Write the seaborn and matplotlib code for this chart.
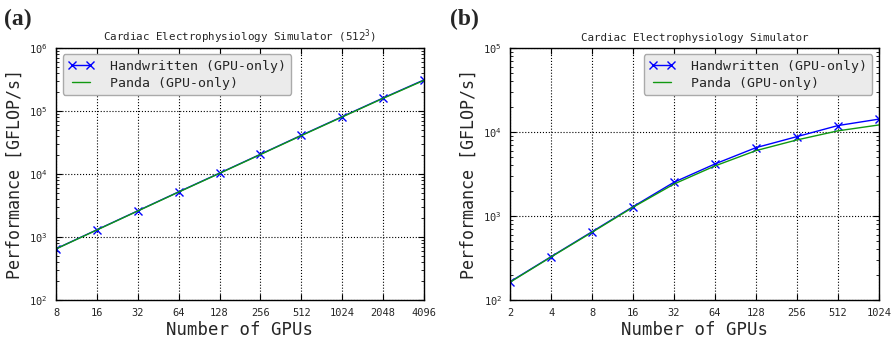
import numpy as np
import pandas as pd
import matplotlib
matplotlib.use("Agg")
import matplotlib.pyplot as plt
import matplotlib.ticker as mticker
import seaborn as sns

# (a) strong scaling, 512^3 problem
gpus_a = [8, 16, 32, 64, 128, 256, 512, 1024, 2048, 4096]
hand_a = [650, 1300, 2600, 5200, 10300, 20500, 41000, 81000, 160000, 310000]
panda_a = [645, 1290, 2580, 5150, 10200, 20300, 40500, 80000, 158000, 305000]

# (b) fixed problem
gpus_b = [2, 4, 8, 16, 32, 64, 128, 256, 512, 1024]
hand_b = [165, 328, 650, 1290, 2520, 4160, 6500, 8790, 11900, 14200]
panda_b = [163, 325, 640, 1270, 2400, 3940, 5990, 8030, 10300, 12100]

sns.set_style("ticks")
plt.rcParams["font.family"] = ["DejaVu Sans Mono"]
plt.rcParams["mathtext.default"] = "regular"
plt.rcParams["xtick.direction"] = "in"
plt.rcParams["ytick.direction"] = "in"

fig = plt.figure(figsize=(8.95, 3.43), dpi=100)
ax_a = fig.add_axes([0.0626, 0.1254, 0.411, 0.735])
ax_b = fig.add_axes([0.570, 0.1254, 0.412, 0.735])


def draw(ax, gpus, hand, panda, title, ylim, legloc):
    sns.lineplot(x=gpus, y=hand, ax=ax, color="blue", marker="x", markersize=5.5,
                 markeredgecolor="blue", markeredgewidth=1.0, linewidth=1.0,
                 label="Handwritten (GPU-only)")
    sns.lineplot(x=gpus, y=panda, ax=ax, color="#119911", linewidth=1.0,
                 label="Panda (GPU-only)")
    ax.set_xscale("log", base=2)
    ax.set_yscale("log")
    ax.set_xlim(gpus[0], gpus[-1])
    ax.set_ylim(*ylim)
    ax.xaxis.set_major_locator(mticker.FixedLocator(gpus))
    ax.xaxis.set_major_formatter(mticker.FixedFormatter([str(g) for g in gpus]))
    ax.xaxis.set_minor_locator(mticker.NullLocator())
    ax.tick_params(axis="both", which="both", top=True, right=True, labelsize=7.5,
                   direction="in", color="black")
    ax.tick_params(axis="both", which="major", length=4, pad=6)
    ax.tick_params(axis="y", which="minor", length=2)
    ax.grid(True, which="major", linestyle=":", color="black", linewidth=0.8)
    for s in ax.spines.values():
        s.set_color("black")
        s.set_linewidth(1.0)
    ax.set_title(title, fontsize=7.8, pad=5)
    ax.set_xlabel("Number of GPUs", fontsize=12.5, labelpad=2)
    ax.set_ylabel("Performance [GFLOP/s]", fontsize=12, labelpad=4)
    leg = ax.legend(loc=legloc, fontsize=9.5, frameon=True, fancybox=True,
                    borderpad=0.4, labelspacing=0.3, handletextpad=1.2,
                    numpoints=2)
    leg.get_frame().set_facecolor("#ebebeb")
    leg.get_frame().set_edgecolor("#aaaaaa")
    leg.get_frame().set_alpha(1.0)


draw(ax_a, gpus_a, hand_a, panda_a,
     "Cardiac Electrophysiology Simulator ($512^3$)", (1e2, 1e6), "upper left")
draw(ax_b, gpus_b, hand_b, panda_b,
     "Cardiac Electrophysiology Simulator", (1e2, 1e5), "upper right")

fig.text(0.005, 0.975, "(a)", fontsize=17, fontweight="bold",
         family=["Liberation Serif"], va="top", ha="left")
fig.text(0.503, 0.975, "(b)", fontsize=17, fontweight="bold",
         family=["Liberation Serif"], va="top", ha="left")

fig.savefig("out.png", dpi=100)
